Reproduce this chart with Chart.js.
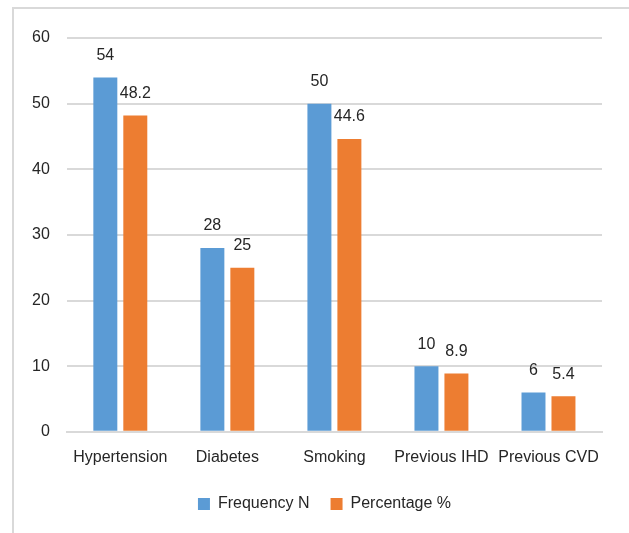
<!doctype html>
<html lang="en">
	<head>
		<meta charset="utf-8">
		<title>Risk factors</title>
		<style>
			html, body {
			margin: 0;
			padding: 0;
			background: #fff;
			overflow: hidden;
			}
			.frame {
			position: absolute;
			left: 12px;
			top: 7px;
			width: 700px;
			height: 600px;
			border: 2px solid #d9d9d9;
			}
			#riskChart {
			position: absolute;
			left: 0;
			top: 0;
			}
		</style>
		<script src="https://cdn.jsdelivr.net/npm/chart.js@4"></script>
	</head>
	<body>
		<div class="frame"></div>
		<canvas id="riskChart" width="629" height="533"></canvas>
		<script>
			const categories = ['Hypertension', 'Diabetes', 'Smoking', 'Previous IHD', 'Previous CVD'];
			const frequencyN = [54, 28, 50, 10, 6];
			const percentage = [48.2, 25, 44.6, 8.9, 5.4];
			const yTicks = [0, 10, 20, 30, 40, 50, 60];

			const fontFamily = "'Liberation Sans', Arial, sans-serif";
			const textColour = '#262626';

			// draws the number above each bar (no datalabels plugin here)
			const valueLabels = {
				id: 'valueLabels',
				afterDatasetsDraw(chart) {
					const ctx = chart.ctx;
					ctx.save();
					ctx.font = '16px ' + fontFamily;
					ctx.fillStyle = textColour;
					ctx.textAlign = 'center';
					ctx.textBaseline = 'middle';
					chart.data.datasets.forEach((ds, i) => {
						chart.getDatasetMeta(i).data.forEach((bar, j) => {
							ctx.fillText(String(ds.data[j]), bar.x, bar.y - 22);
						});
					});
					ctx.restore();
				}
			};

			// nudge the legend a bit to the right, like the original
			const legendShift = {
				id: 'legendShift',
				afterLayout(chart) {
					chart.legend.left += 16;
					chart.legend.right += 16;
				}
			};

			var chartData = {
				labels: categories,
				datasets: [{
					label: 'Frequency N',
					data: frequencyN,
					backgroundColor: '#5b9bd5'
				}, {
					label: 'Percentage %',
					data: percentage,
					backgroundColor: '#ed7d31'
				}]
			};

			var options = {
				animation: false,
				responsive: false,
				layout: {
					padding: {top: 38, left: 15, right: 27, bottom: 11}
				},
				datasets: {
					bar: {
						categoryPercentage: 0.56,
						barPercentage: 0.8
					}
				},
				plugins: {
					legend: {
						position: 'bottom',
						labels: {
							boxWidth: 12,
							boxHeight: 12,
							padding: 21,
							color: textColour,
							font: {family: fontFamily, size: 16}
						}
					},
					tooltip: {enabled: false}
				},
				scales: {
					x: {
						grid: {display: false},
						border: {color: '#d9d9d9', width: 2},
						ticks: {
							color: textColour,
							font: {family: fontFamily, size: 16},
							maxRotation: 0,
							autoSkip: false,
							padding: 8
						}
					},
					y: {
						min: 0,
						max: 60,
						afterBuildTicks: axis => {
							axis.ticks = yTicks.map(v => ({value: v}));
						},
						grid: {color: '#d9d9d9', lineWidth: 2, drawTicks: false},
						border: {display: false},
						ticks: {
							color: textColour,
							font: {family: fontFamily, size: 16},
							padding: 17
						}
					}
				}
			};

			new Chart(document.getElementById('riskChart'), {
				type: 'bar',
				data: chartData,
				options: options,
				plugins: [valueLabels, legendShift]
			});
		</script>
	</body>
</html>
